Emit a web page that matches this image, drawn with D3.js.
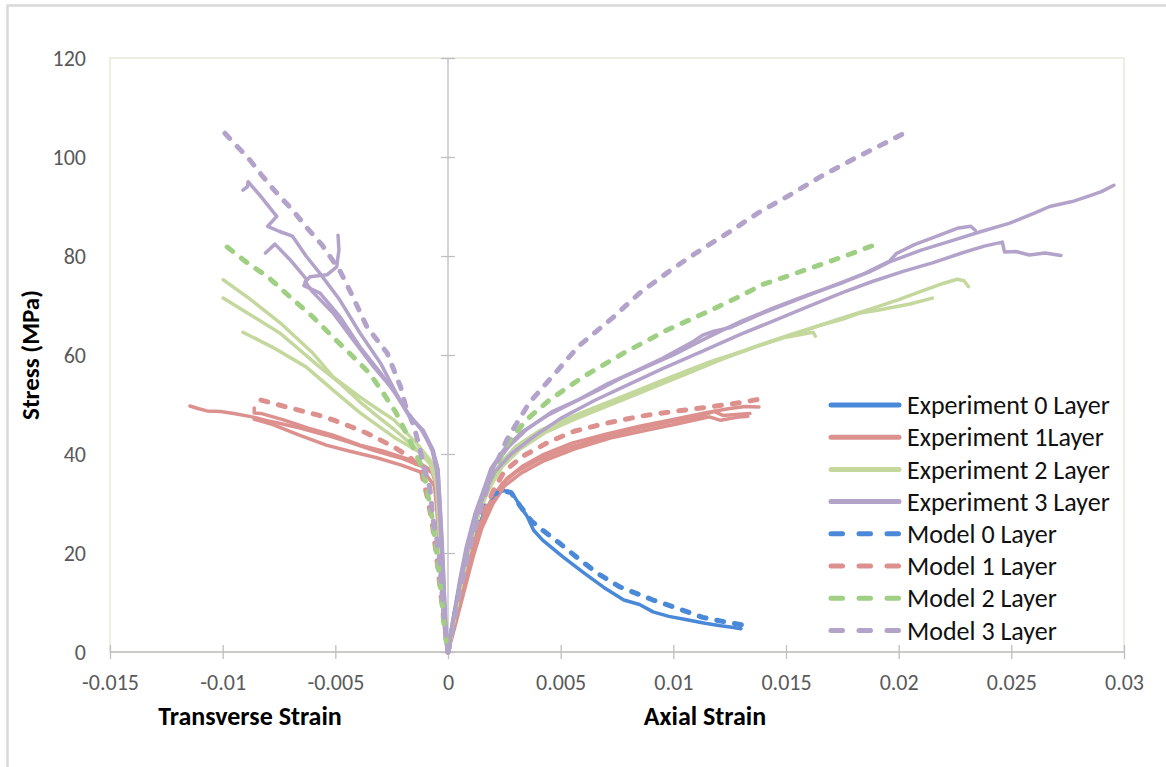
<!DOCTYPE html>
<html>
<head>
<meta charset="utf-8">
<script src="https://cdn.jsdelivr.net/npm/d3@7"></script>
<style>
  html, body { margin: 0; padding: 0; background: #fff; }
  svg { display: block; }
  text { font-family: Carlito, Calibri, Lato, "Open Sans", sans-serif; }
</style>
</head>
<body>
<svg id="chart" width="1166" height="767"></svg>
<script>
// ---- axis ticks -------------------------------------------------------------
const xTicks = [-0.015, -0.01, -0.005, 0, 0.005, 0.01, 0.015, 0.02, 0.025, 0.03];
const xTickLabels = ["-0.015", "-0.01", "-0.005", "0", "0.005", "0.01", "0.015", "0.02", "0.025", "0.03"];
const yTicks = [0, 20, 40, 60, 80, 100, 120];
const yTickLabels = ["0", "20", "40", "60", "80", "100", "120"];

// ---- series names (legend order) -------------------------------------------
const seriesNames = ["Experiment 0 Layer", "Experiment 1Layer", "Experiment 2 Layer", "Experiment 3 Layer",
                     "Model 0 Layer", "Model 1 Layer", "Model 2 Layer", "Model 3 Layer"];

// ---- curves: [strain, stress (MPa)] ----------------------------------------
// 0 layer
const exp0Axial = [[0,0],[0.0003,7],[0.0007,15],[0.0011,22],[0.0015,27],[0.0019,30.5],[0.0022,32.2],[0.0025,32.6],
  [0.0028,32.3],[0.003,31],[0.0033,28.8],[0.0035,27.5],[0.0038,24.6],[0.0042,22.6],[0.0051,19.2],[0.006,16.1],
  [0.0069,13.1],[0.0078,10.5],[0.0085,9.6],[0.0091,8.1],[0.0098,7.2],[0.0106,6.5],[0.0114,5.8],[0.0121,5.3],
  [0.0126,5],[0.013,4.7]];
const model0Axial = [[0,0],[0.0004,10],[0.0008,18],[0.0012,24.5],[0.0016,29],[0.002,31.8],[0.0024,32.6],[0.0028,32.2],
  [0.0032,29.5],[0.0037,26.5],[0.0042,24.6],[0.005,21.8],[0.0057,19.2],[0.0066,16],[0.0076,13.2],[0.0091,10.5],
  [0.0102,8.8],[0.0113,7],[0.0125,5.9],[0.0133,5.3]];

// 1 layer
const exp1AxialA = [[0,0],[0.0002,5],[0.0005,11],[0.0009,18],[0.0013,24],[0.0017,28.5],[0.0021,32],[0.0026,35],
  [0.0033,37.5],[0.0042,39.8],[0.0055,42.2],[0.007,44],[0.0085,45.6],[0.01,47],[0.0115,48.4],[0.0125,49.2],
  [0.0132,49.6],[0.0138,49.5]];
const exp1AxialB = [[0,0],[0.0003,6],[0.0007,14],[0.0011,21],[0.0015,26.5],[0.0019,30.5],[0.0024,34],[0.003,36.3],
  [0.004,38.8],[0.0055,41.5],[0.007,43.5],[0.0085,45.2],[0.01,46.6],[0.0112,47.6],[0.0118,48.6],[0.0122,47.8],
  [0.0128,48],[0.0134,48.2]];
const exp1AxialC = [[0,0],[0.0003,5],[0.0007,12],[0.0011,19],[0.0015,25],[0.002,30],[0.0025,33.5],[0.0032,36],
  [0.0042,38.5],[0.0056,41],[0.0072,43.2],[0.0088,44.8],[0.0103,46.2],[0.0116,47.5],[0.0121,46.8],[0.0128,47.4],
  [0.0133,47.6]];
const exp1Transverse1 = [[-0.01145,49.7],[-0.0111,49.2],[-0.0107,48.7],[-0.0101,48.6],[-0.0095,48.2],[-0.0087,47.5],
  [-0.0079,46.6],[-0.0066,45.3],[-0.0054,43.8],[-0.0044,42.4],[-0.0032,40.6],[-0.0021,39.2],[-0.0011,37.4],
  [-0.0007,36.2],[-0.0005,34.5],[-0.0004,30],[-0.00035,24],[-0.0003,17],[-0.0002,10],[-0.0001,4],[0,0]];
const exp1Transverse2 = [[-0.0086,49.3],[-0.0086,48.3],[-0.0083,48.2],[-0.0073,46.9],[-0.0062,45.2],[-0.0051,43.8],
  [-0.0039,41.8],[-0.0029,40.6],[-0.0018,39],[-0.0012,38],[-0.0007,36.5],[-0.0005,33],[-0.0004,27],[-0.0003,19],
  [-0.0002,11],[-0.0001,4],[0,0]];
const exp1Transverse3 = [[-0.0086,47],[-0.0078,46],[-0.0066,43.8],[-0.0054,41.8],[-0.0044,40.6],[-0.0032,39.3],
  [-0.0021,37.8],[-0.0013,36.5],[-0.0009,35.4],[-0.0006,33.5],[-0.0005,29],[-0.0004,22],[-0.0003,14],
  [-0.0002,7],[-0.0001,2],[0,0]];
const model1Axial = [[0,0],[0.0005,11],[0.001,20],[0.0015,27],[0.002,32.5],[0.0025,36.5],[0.0033,39.5],[0.0045,42.5],
  [0.0056,44.6],[0.007,46.2],[0.0085,47.6],[0.01,48.6],[0.0116,49.5],[0.013,50.4],[0.0141,51.3]];
const model1Transverse = [[-0.0083,50.9],[-0.007,49.3],[-0.0058,47.9],[-0.0051,46.9],[-0.0043,45.5],[-0.0036,44.2],
  [-0.0029,42.6],[-0.0024,41.4],[-0.0017,39.4],[-0.0012,37],[-0.0011,34.7],[-0.0009,31],[-0.0007,26],
  [-0.0005,19],[-0.0003,11],[-0.00015,5],[0,0]];

// 2 layers
const exp2AxialA = [[0,0],[0.0002,6],[0.0005,13],[0.0009,21],[0.0013,28],[0.0018,33.5],[0.0023,38],[0.003,41.5],
  [0.0041,44.8],[0.0052,47],[0.0063,49],[0.0074,51],[0.0085,53],[0.0096,55],[0.0107,57],[0.0118,58.9],[0.013,60.6],
  [0.0145,63],[0.016,65.2],[0.0175,67.5],[0.0187,69.2],[0.02,71.2],[0.0212,73.2],[0.022,74.5],[0.0226,75.3],
  [0.0229,75],[0.0231,73.8]];
const exp2AxialB = [[0,0],[0.0003,7],[0.0006,14],[0.001,22],[0.0014,28.5],[0.0019,34],[0.0025,38.6],[0.0033,42],
  [0.0044,45.2],[0.0056,47.6],[0.0068,49.8],[0.008,51.8],[0.0092,53.9],[0.0105,56.2],[0.012,59],[0.0135,61.5],
  [0.015,63.8],[0.0165,66],[0.0175,67.2],[0.0183,68.5],[0.019,69],[0.0197,69.6],[0.0205,70.3],[0.0215,71.5]];
const exp2AxialC = [[0,0],[0.0002,5],[0.0005,12],[0.0009,20],[0.0013,27],[0.0018,32.8],[0.0024,37.4],[0.0032,41],
  [0.0043,44.3],[0.0055,46.8],[0.0067,49],[0.008,51.4],[0.0093,53.8],[0.0108,56.6],[0.0122,59.2],[0.0136,61.6],
  [0.015,63.6],[0.0162,64.6],[0.0163,63.8]];
const exp2Transverse1 = [[-0.00998,75.2],[-0.0089,71.7],[-0.00745,66.5],[-0.006,60.4],[-0.0051,55.6],[-0.0039,51.5],
  [-0.0031,49],[-0.0024,46.9],[-0.0014,42.2],[-0.0008,38.8],[-0.0005,35],[-0.0004,28],[-0.0003,20],[-0.0002,12],
  [-0.0001,5],[0,0]];
const exp2Transverse2 = [[-0.00998,71.5],[-0.0089,68.5],[-0.00745,64.4],[-0.0057,57.6],[-0.0048,54.3],[-0.0039,50.5],
  [-0.0031,47.5],[-0.0024,45],[-0.0015,41.5],[-0.0008,38],[-0.0005,34],[-0.00038,26],[-0.00028,18],[-0.00018,10],
  [-0.0001,4],[0,0]];
const exp2Transverse3 = [[-0.0091,64.6],[-0.0078,61.6],[-0.0063,57.6],[-0.0051,52.9],[-0.0039,48.3],[-0.0024,43.4],
  [-0.0012,40.2],[-0.0007,38.2],[-0.0005,33],[-0.0004,25],[-0.0003,17],[-0.0002,9],[-0.0001,3],[0,0]];
const model2Axial = [[0,0],[0.0005,12],[0.001,22],[0.0015,30],[0.002,36],[0.0026,42],[0.0035,47],[0.0045,50.9],
  [0.006,55.6],[0.0078,60.4],[0.0097,65],[0.0115,68.7],[0.0128,71.5],[0.014,74.3],[0.0153,76.3],[0.0165,78.2],
  [0.0178,80.3],[0.0189,82.2]];
const model2Transverse = [[-0.0098,81.8],[-0.0089,78.6],[-0.008,75.8],[-0.007,71.7],[-0.006,67.7],[-0.0051,63.6],
  [-0.0042,59.6],[-0.0035,56.4],[-0.0029,52.5],[-0.0023,48.3],[-0.0017,42.8],[-0.0011,36.8],[-0.0009,32],
  [-0.0007,27],[-0.0005,20],[-0.0003,12],[-0.0002,6.5],[-0.0001,3],[0,0]];

// 3 layers
const exp3AxialA = [[0,0],[0.0002,6],[0.0005,14],[0.0008,21],[0.0012,28],[0.0016,33],[0.0019,37],[0.0025,41],
  [0.0033,44.5],[0.0045,48],[0.0056,50.5],[0.0068,53.2],[0.0078,55.6],[0.009,58],[0.01,60],[0.0115,63.5],
  [0.013,66.8],[0.0145,69.6],[0.016,72.2],[0.0175,74.6],[0.0187,76.8],[0.0196,78.8],[0.021,81.2],[0.0223,83],
  [0.0237,85],[0.0249,86.6],[0.026,88.6],[0.0267,90],[0.0277,91],[0.0285,92.2],[0.029,93],[0.02955,94.3]];
const exp3AxialB = [[0,0],[0.0003,8],[0.0006,16],[0.0009,22],[0.0013,29],[0.0017,34],[0.0021,38],[0.0027,41.5],
  [0.0035,45],[0.0046,48.5],[0.0058,51],[0.007,54],[0.0082,56.5],[0.0095,59.3],[0.0108,62.5],[0.0113,64],
  [0.0118,64.8],[0.0125,65.5],[0.014,68.5],[0.0155,71.2],[0.017,73.8],[0.0185,76.5],[0.0196,79],[0.0199,80.5],
  [0.0207,82.3],[0.0217,84],[0.0226,85.6],[0.0232,86],[0.0234,85.2]];
const exp3AxialC = [[0,0],[0.0002,6],[0.0005,13],[0.0009,21],[0.0013,28],[0.0017,33],[0.0021,36.5],[0.0028,40],
  [0.0038,43.5],[0.005,47.2],[0.0065,50.8],[0.008,54],[0.0095,57.2],[0.0112,60.6],[0.013,64.2],[0.0145,67],
  [0.016,69.8],[0.0175,72.6],[0.0188,74.8],[0.0202,76.9],[0.0215,78.6],[0.0228,80.6],[0.0238,82],[0.0246,82.8],
  [0.0247,80.8],[0.0252,80.9],[0.0258,80.2],[0.0265,80.6],[0.0272,80.1]];
const exp3Transverse1 = [[-0.0091,93.3],[-0.0089,94],[-0.00887,95],[-0.0083,92],[-0.0076,88],[-0.008,86],[-0.0075,85],
  [-0.0069,84],[-0.0063,80],[-0.0057,76.6],[-0.0048,71.1],[-0.0039,64.4],[-0.003,58.4],[-0.0023,52.3],
  [-0.0017,47.5],[-0.0011,44.8],[-0.00066,40.8],[-0.00044,36.8],[-0.00035,30],[-0.00027,23.2],[-0.0002,16.6],
  [-0.00015,9],[-0.0001,3],[0,0]];
const exp3Transverse2 = [[-0.0081,80.6],[-0.00768,82.4],[-0.007,79.2],[-0.00626,75.2],[-0.0064,74],[-0.00568,72.5],
  [-0.00479,67.7],[-0.0039,61.6],[-0.003,56.4],[-0.0024,52.6],[-0.0017,47.8],[-0.0011,44.6],[-0.0007,40.6],
  [-0.0005,36.5],[-0.0004,30],[-0.0003,22],[-0.0002,14],[-0.0001,5],[0,0]];
const exp3Transverse3 = [[-0.00488,84.2],[-0.00484,81.2],[-0.00494,77.8],[-0.00537,76.2],[-0.00612,75.8],
  [-0.00634,74.8],[-0.006,72.7],[-0.0051,68.5],[-0.0042,63],[-0.0033,57.6],[-0.00244,53],[-0.0018,48.2],
  [-0.0012,45],[-0.0007,41],[-0.00045,37],[-0.00035,29],[-0.00025,20],[-0.00015,11],[-0.00008,4],[0,0]];
const model3Axial = [[0,0],[0.0005,12],[0.001,22],[0.0015,30],[0.002,36.5],[0.0026,42.8],[0.0036,50.3],[0.0045,55],
  [0.0058,61.8],[0.0073,67.5],[0.0085,72.5],[0.0099,77.2],[0.011,80.6],[0.0124,84.6],[0.0138,88.8],[0.0152,92.4],
  [0.0166,96.2],[0.018,99.6],[0.0193,102.6],[0.0205,105.4]];
const model3Transverse = [[-0.0099,104.8],[-0.0095,102.8],[-0.0089,100],[-0.0083,96.5],[-0.0076,92.7],[-0.0069,89.3],
  [-0.0063,85.9],[-0.0056,82.3],[-0.0048,77],[-0.0043,72.5],[-0.0036,65.7],[-0.0027,60.4],[-0.0021,53.5],
  [-0.0019,50],[-0.0015,45.5],[-0.00124,40.8],[-0.0011,38],[-0.0008,33],[-0.00066,26.7],[-0.0005,23],
  [-0.00035,18],[-0.0003,14],[-0.0002,8.5],[-0.0001,4],[0,0]];

// ---- series table ------------------------------------------------------------
const seriesColors = ["#4a88d8", "#dc918e", "#c4d89d", "#b3a2ca", "#4a88d8", "#dc918e", "#9fcf82", "#b3a2ca"];
const seriesDashed = [false, false, false, false, true, true, true, true];
const seriesCurves = [
  [exp0Axial],
  [exp1AxialA, exp1AxialB, exp1AxialC, exp1Transverse1, exp1Transverse2, exp1Transverse3],
  [exp2AxialA, exp2AxialB, exp2AxialC, exp2Transverse1, exp2Transverse2, exp2Transverse3],
  [exp3AxialA, exp3AxialB, exp3AxialC, exp3Transverse1, exp3Transverse2, exp3Transverse3],
  [model0Axial],
  [model1Axial, model1Transverse],
  [model2Axial, model2Transverse],
  [model3Axial, model3Transverse]
];
const series = seriesNames.map((name, i) => ({
  name, color: seriesColors[i], dashed: seriesDashed[i], curves: seriesCurves[i]
}));

// ---- layout -------------------------------------------------------------------
const svg = d3.select("#chart");
const plot = { left: 110, top: 58, right: 1124, bottom: 652 };

const x = d3.scaleLinear().domain([-0.015, 0.03]).range([plot.left, plot.right]);
const y = d3.scaleLinear().domain([0, 120]).range([plot.bottom, plot.top]);

// outer chart frame
svg.append("rect")
  .attr("x", 7.5).attr("y", 5.5).attr("width", 1200).attr("height", 800)
  .attr("fill", "#fff").attr("stroke", "#d9d9d9").attr("stroke-width", 2.5);

// plot area border
svg.append("rect")
  .attr("x", plot.left).attr("y", plot.top)
  .attr("width", plot.right - plot.left).attr("height", plot.bottom - plot.top)
  .attr("fill", "none").attr("stroke", "#e2e1cf").attr("stroke-width", 1.2);

const axisColor = "#bfbfbf";

// vertical axis line at zero strain with crossing ticks
const yTickAxis = svg.append("g")
  .attr("transform", `translate(${x(0) + 7},0)`)
  .call(d3.axisLeft(y).tickValues(yTicks).tickSize(14).tickFormat(""));
yTickAxis.select(".domain").remove();
yTickAxis.selectAll(".tick line").attr("stroke", axisColor).attr("stroke-width", 1.3);
svg.append("line")
  .attr("x1", x(0)).attr("x2", x(0)).attr("y1", plot.top).attr("y2", plot.bottom)
  .attr("stroke", axisColor).attr("stroke-width", 1.3);

// horizontal axis with crossing ticks
const xTickAxis = svg.append("g")
  .attr("transform", `translate(0,${y(0) - 7})`)
  .call(d3.axisBottom(x).tickValues(xTicks).tickSize(14).tickFormat(""));
xTickAxis.select(".domain").remove();
xTickAxis.selectAll(".tick line").attr("stroke", axisColor).attr("stroke-width", 1.3);
svg.append("line")
  .attr("x1", plot.left).attr("x2", plot.right).attr("y1", y(0)).attr("y2", y(0))
  .attr("stroke", axisColor).attr("stroke-width", 1.3);

// tick labels
const yLabelAxis = svg.append("g")
  .attr("transform", `translate(${plot.left},0)`)
  .call(d3.axisLeft(y).tickValues(yTicks).tickSize(0).tickPadding(24)
    .tickFormat((d, i) => yTickLabels[i]));
yLabelAxis.select(".domain").remove();
yLabelAxis.selectAll("text").attr("fill", "#595959").style("font-size", "22px");

const xLabelAxis = svg.append("g")
  .attr("transform", `translate(0,${y(0)})`)
  .call(d3.axisBottom(x).tickValues(xTicks).tickSize(0).tickPadding(22)
    .tickFormat((d, i) => xTickLabels[i]));
xLabelAxis.select(".domain").remove();
xLabelAxis.selectAll("text").attr("fill", "#595959").style("font-size", "22px");

// axis titles
svg.append("text").text("Transverse Strain")
  .attr("x", 250).attr("y", 725).attr("text-anchor", "middle")
  .style("font-size", "26px").style("font-weight", "bold").attr("fill", "#000");
svg.append("text").text("Axial Strain")
  .attr("x", 705).attr("y", 725).attr("text-anchor", "middle")
  .style("font-size", "26px").style("font-weight", "bold").attr("fill", "#000");
svg.append("text").text("Stress (MPa)")
  .attr("transform", "translate(39,355) rotate(-90)").attr("text-anchor", "middle")
  .style("font-size", "25px").style("font-weight", "bold").attr("fill", "#000");

// curves
const line = d3.line().x(d => x(d[0])).y(d => y(d[1]));
const curveLayer = svg.append("g");
series.forEach(s => {
  curveLayer.append("g").selectAll("path")
    .data(s.curves)
    .join("path")
    .attr("d", line)
    .attr("fill", "none")
    .attr("stroke", s.color)
    .attr("stroke-width", s.dashed ? 5 : 3.5)
    .attr("stroke-linecap", "round")
    .attr("stroke-linejoin", "round")
    .attr("stroke-dasharray", s.dashed ? "7,11" : null);
});

// legend
const legend = svg.append("g").attr("transform", "translate(829,405)");
const rows = legend.selectAll("g").data(series).join("g")
  .attr("transform", (d, i) => `translate(0,${i * 32.2})`);
rows.append("line")
  .attr("x1", 2).attr("x2", 70).attr("y1", 0).attr("y2", 0)
  .attr("stroke", d => d.color).attr("stroke-width", 5)
  .attr("stroke-linecap", "round")
  .attr("stroke-dasharray", d => d.dashed ? "11.5,16.5" : null);
rows.append("text")
  .attr("x", 78).attr("y", 0).attr("dy", "0.35em")
  .text(d => d.name)
  .style("font-size", "26px").attr("fill", "#111");
</script>
</body>
</html>
